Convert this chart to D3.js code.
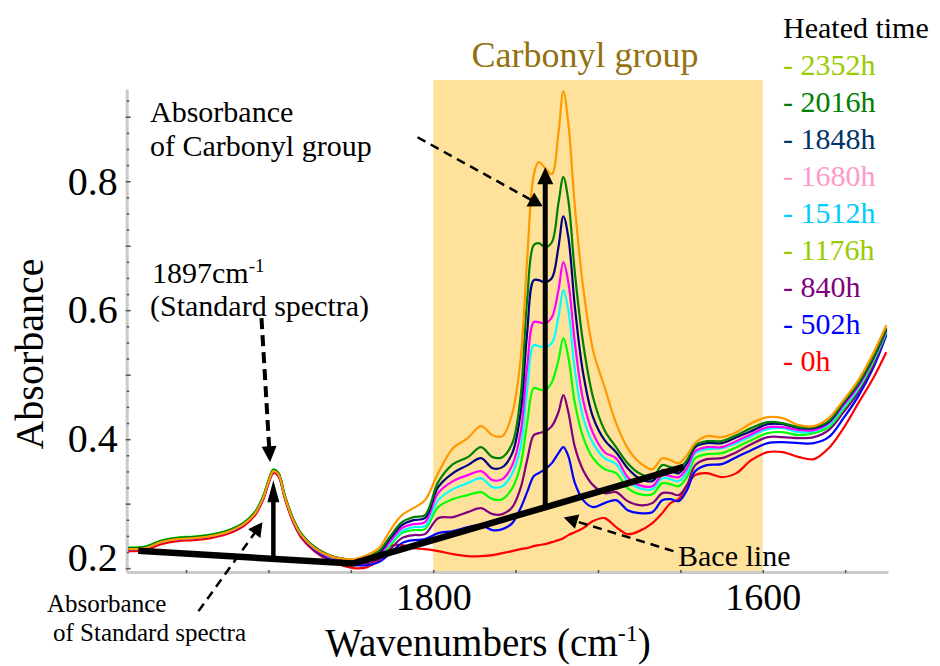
<!DOCTYPE html>
<html><head><meta charset="utf-8">
<script src="https://cdn.jsdelivr.net/npm/d3@7"></script>
<style>
body{margin:0;background:#fff}
svg{display:block}
text{font-family:"Liberation Serif","Times New Roman",Times,serif}
</style>
</head><body>
<svg id="c" width="940" height="666"></svg>
<script>
// ---------------- DATA ----------------
const wavenumbers = [1985,1975,1965,1955,1945,1935,1925,1915,1908,1903,
  1900,1897,1894,1890,1885,1880,1872,1864,1856,1848,
  1840,1833,1826,1819,1812,1805,1797,1788,1779,1771,
  1764,1758,1752,1747,1743,1739,1736,1732,1728,1724,
  1721,1718,1714,1709,1703,1696,1689,1682,1675,1667,
  1661,1656,1651,1646,1641,1634,1625,1616,1607,1597,
  1588,1578,1569,1560,1551,1542,1533,1525];

const seriesLabels = ["2352h","2016h","1848h","1680h","1512h","1176h","840h","502h","0h"];

const abs2352 = [0.2295,0.2310,0.2403,0.2450,0.2465,0.2496,0.2558,0.2682,0.2853,0.3101,0.3333,0.3504,0.3457,0.3101,0.2744,0.2512,0.2310,0.2202,0.2147,
  0.2140,0.2202,0.2310,0.2589,0.2822,0.2930,0.3054,0.3473,0.3860,0.4016,0.4202,0.4062,0.4047,0.4403,0.5225,0.6775,0.8093,0.8295,0.8202,0.8109,0.8744,0.9395,0.8899,0.7597,0.6357,0.5380,0.4806,0.4248,0.3860,0.3643,0.3535,0.3705,0.3674,0.3628,0.3752,0.3938,0.4047,0.4031,0.4109,0.4248,0.4341,0.4326,0.4217,0.4202,0.4326,0.4605,0.4915,0.5333,0.5767];
const abs2016 = [0.2315,0.2330,0.2423,0.2470,0.2485,0.2516,0.2578,0.2702,0.2873,0.3121,0.3353,0.3524,0.3477,0.3121,0.2764,0.2532,0.2330,0.2212,0.2152,
  0.2132,0.2186,0.2264,0.2496,0.2713,0.2791,0.2822,0.3333,0.3612,0.3721,0.3876,0.3721,0.3721,0.3938,0.4651,0.6155,0.7008,0.7039,0.6977,0.7054,0.7659,0.8062,0.7705,0.6574,0.5488,0.4651,0.4140,0.3876,0.3628,0.3473,0.3411,0.3597,0.3566,0.3550,0.3674,0.3907,0.3969,0.3969,0.4062,0.4171,0.4264,0.4248,0.4186,0.4186,0.4279,0.4574,0.4868,0.5271,0.5721];
const abs1848 = [0.2305,0.2320,0.2413,0.2460,0.2475,0.2506,0.2568,0.2692,0.2863,0.3111,0.3343,0.3514,0.3467,0.3111,0.2754,0.2522,0.2320,0.2207,0.2147,
  0.2124,0.2155,0.2233,0.2465,0.2667,0.2744,0.2775,0.3256,0.3473,0.3597,0.3705,0.3550,0.3566,0.3783,0.4403,0.5643,0.6465,0.6465,0.6434,0.6496,0.6977,0.7457,0.7132,0.6047,0.5023,0.4341,0.3984,0.3798,0.3550,0.3395,0.3349,0.3519,0.3504,0.3473,0.3628,0.3876,0.3938,0.3938,0.4031,0.4124,0.4233,0.4233,0.4171,0.4171,0.4264,0.4558,0.4853,0.5256,0.5705];
const abs1680 = [0.2295,0.2310,0.2403,0.2450,0.2465,0.2496,0.2558,0.2682,0.2853,0.3101,0.3333,0.3504,0.3457,0.3101,0.2744,0.2512,0.2305,0.2192,0.2135,
  0.2109,0.2140,0.2202,0.2419,0.2620,0.2682,0.2713,0.3163,0.3349,0.3442,0.3504,0.3364,0.3380,0.3597,0.4093,0.5116,0.5814,0.5814,0.5798,0.5891,0.6310,0.6744,0.6434,0.5488,0.4605,0.4093,0.3798,0.3705,0.3411,0.3287,0.3271,0.3442,0.3426,0.3411,0.3550,0.3814,0.3876,0.3876,0.3969,0.4078,0.4186,0.4186,0.4140,0.4140,0.4248,0.4527,0.4822,0.5240,0.5690];
const abs1512 = [0.2305,0.2320,0.2413,0.2460,0.2475,0.2506,0.2568,0.2692,0.2863,0.3111,0.3343,0.3514,0.3467,0.3111,0.2750,0.2515,0.2305,0.2190,0.2130,
  0.2109,0.2124,0.2186,0.2388,0.2574,0.2636,0.2651,0.3054,0.3225,0.3318,0.3395,0.3256,0.3271,0.3473,0.3876,0.4760,0.5457,0.5442,0.5426,0.5488,0.5891,0.6310,0.6000,0.5070,0.4341,0.3938,0.3705,0.3612,0.3349,0.3240,0.3225,0.3395,0.3380,0.3349,0.3488,0.3783,0.3845,0.3860,0.3938,0.4047,0.4155,0.4171,0.4109,0.4124,0.4217,0.4496,0.4791,0.5225,0.5674];
const abs1176 = [0.2320,0.2335,0.2428,0.2475,0.2490,0.2521,0.2583,0.2707,0.2878,0.3126,0.3358,0.3529,0.3482,0.3126,0.2765,0.2530,0.2315,0.2195,0.2125,
  0.2093,0.2109,0.2171,0.2357,0.2543,0.2589,0.2605,0.2946,0.3070,0.3132,0.3178,0.3070,0.3070,0.3240,0.3597,0.4248,0.4791,0.4775,0.4760,0.4884,0.5225,0.5566,0.5271,0.4558,0.4031,0.3705,0.3535,0.3473,0.3240,0.3147,0.3147,0.3318,0.3302,0.3271,0.3411,0.3705,0.3767,0.3783,0.3876,0.3984,0.4093,0.4109,0.4062,0.4093,0.4186,0.4465,0.4775,0.5194,0.5659];
const abs840 = [0.2295,0.2310,0.2403,0.2450,0.2465,0.2496,0.2558,0.2682,0.2853,0.3101,0.3333,0.3504,0.3457,0.3101,0.2740,0.2505,0.2295,0.2175,0.2110,
  0.2078,0.2078,0.2140,0.2295,0.2465,0.2512,0.2527,0.2775,0.2791,0.2868,0.2930,0.2837,0.2837,0.2946,0.3240,0.3674,0.4062,0.4093,0.4124,0.4202,0.4419,0.4682,0.4419,0.3876,0.3519,0.3287,0.3163,0.3178,0.3039,0.2977,0.3008,0.3163,0.3163,0.3132,0.3287,0.3597,0.3690,0.3705,0.3798,0.3922,0.4031,0.4031,0.4016,0.4031,0.4140,0.4419,0.4729,0.5147,0.5643];
const abs502 = [0.2290,0.2305,0.2398,0.2445,0.2460,0.2491,0.2553,0.2677,0.2848,0.3096,0.3328,0.3499,0.3452,0.3096,0.2735,0.2495,0.2280,0.2155,0.2085,
  0.2047,0.2047,0.2093,0.2233,0.2388,0.2434,0.2450,0.2543,0.2574,0.2636,0.2667,0.2589,0.2605,0.2698,0.2930,0.3178,0.3426,0.3473,0.3535,0.3628,0.3783,0.3876,0.3736,0.3318,0.3054,0.2946,0.3008,0.3054,0.2899,0.2853,0.2868,0.3054,0.3070,0.3039,0.3209,0.3504,0.3597,0.3612,0.3721,0.3829,0.3938,0.3953,0.3938,0.3938,0.4031,0.4326,0.4667,0.5101,0.5612];
const abs0 = [0.2265,0.2280,0.2373,0.2420,0.2435,0.2466,0.2528,0.2652,0.2823,0.3071,0.3303,0.3474,0.3427,0.3071,0.2710,0.2470,0.2260,0.2130,0.2050,
  0.2000,0.2016,0.2124,0.2341,0.2357,0.2310,0.2295,0.2264,0.2217,0.2186,0.2186,0.2202,0.2233,0.2264,0.2295,0.2310,0.2341,0.2357,0.2372,0.2403,0.2434,0.2465,0.2512,0.2558,0.2620,0.2729,0.2775,0.2636,0.2527,0.2574,0.2698,0.2853,0.3008,0.3070,0.3287,0.3442,0.3473,0.3411,0.3473,0.3674,0.3798,0.3798,0.3721,0.3690,0.3860,0.4171,0.4558,0.4946,0.5349];

const seriesValues = [abs2352,abs2016,abs1848,abs1680,abs1512,abs1176,abs840,abs502,abs0];
const lineColors = ["#ff9900","#008000","#000080","#ff00ff","#00ffff","#00ff00","#800080","#0000ff","#ff0000"];
const legendColors = ["#99cc00","#008000","#003366","#ff99cc","#00ccff","#99cc00","#800080","#0000ff","#ff0000"];

const yTickLabels = [0.2,0.4,0.6,0.8];
const xTickLabels = [1800,1600];
const carbonylRange = [1800,1600];

// annotation geometry (wavenumber, absorbance)
const baselinePts = [[1979,0.227],[1849,0.207],[1648,0.357]];
const standardArrow = [[1897,0.2144],[1897,0.3364]];
const carbonylArrow = [[1732,0.2943],[1732,0.8217]];
const carbonylPointer = [[1809.5,0.8682],[1733.6,0.7612]];
const standardPointer = [[1904.2,0.5876],[1899,0.3643]];
const standardAbsPointer = [[1942.4,0.1333],[1903.6,0.2713]];
const basePointer = [[1654.2,0.2264],[1720.8,0.2786]];

// ---------------- DRAW ----------------
const svg = d3.select("#c");
const x = d3.scaleLinear().domain([1986,1524]).range([126.7,888]);
const y = d3.scaleLinear().domain([0.194,0.943]).range([572,89]);

// shaded carbonyl band
svg.append("rect")
  .attr("x", x(carbonylRange[0])).attr("width", x(carbonylRange[1]) - x(carbonylRange[0]))
  .attr("y", 80).attr("height", y(0.194) - 80)
  .attr("fill", "#fee29b");

svg.append("text").attr("x", 585).attr("y", 67).attr("text-anchor","middle")
  .attr("font-size", 36).attr("fill", "#94700f").text("Carbonyl group");

// axes
const yMinor = d3.range(0, 30).map(i => +(0.2 + i*0.025).toFixed(3));
const xMinor = d3.range(1950, 1549, -50);

const gy = svg.append("g").attr("transform", "translate(126.7,0)")
  .call(d3.axisLeft(y).tickValues(yMinor).tickSizeInner(-3).tickSizeOuter(0).tickFormat(""));
gy.select(".domain").attr("stroke", "#cacaca").attr("stroke-width", 3);
gy.selectAll(".tick line").attr("stroke", "#555").attr("stroke-width", 1.5)
  .attr("x1", d => (Math.round(d*1000) % 100 === 0) ? -1 : 0)
  .attr("x2", d => (Math.round(d*1000) % 100 === 0) ? 4 : 2.5);

const gyl = svg.append("g").attr("transform", "translate(126.7,0)")
  .call(d3.axisLeft(y).tickValues(yTickLabels).tickSize(0).tickPadding(9).tickFormat(d3.format(".1f")));
gyl.select(".domain").remove();
gyl.selectAll("text").attr("font-size", 40).attr("fill", "#000")
  .attr("font-family", '"Liberation Serif","Times New Roman",serif')
  .attr("dy", d => d === 0.2 ? "0.05em" : "0.32em");

const gx = svg.append("g").attr("transform", "translate(0,572)")
  .call(d3.axisBottom(x).tickValues(xMinor).tickSizeInner(-3).tickSizeOuter(0).tickFormat(""));
gx.select(".domain").attr("stroke", "#cacaca").attr("stroke-width", 3);
gx.selectAll(".tick line").attr("stroke", "#555").attr("stroke-width", 1.5).attr("y1", 1).attr("y2", -2);

const gxl = svg.append("g").attr("transform", "translate(0,572)")
  .call(d3.axisBottom(x).tickValues(xTickLabels).tickSize(0).tickPadding(11).tickFormat(d3.format("d")));
gxl.select(".domain").remove();
gxl.selectAll("text").attr("font-size", 38).attr("fill", "#000")
  .attr("font-family", '"Liberation Serif","Times New Roman",serif');

// axis titles
svg.append("text").attr("transform", "translate(43,354) rotate(-90)")
  .attr("text-anchor", "middle").attr("font-size", 40).text("Absorbance");
const xt = svg.append("text").attr("x", 488).attr("y", 656).attr("text-anchor", "middle").attr("font-size", 39);
xt.append("tspan").text("Wavenumbers (cm");
xt.append("tspan").attr("font-size", 24).attr("dy", -15).text("-1");
xt.append("tspan").attr("dy", 15).text(")");

// spectra
const line = d3.line().x(d => x(d[0])).y(d => y(d[1])).curve(d3.curveCatmullRom.alpha(0.5));
const order = [8,7,6,5,4,3,2,1,0];
order.forEach(i => {
  const pts = wavenumbers.map((w, k) => [w, seriesValues[i][k]]);
  svg.append("path").attr("d", line(pts)).attr("fill", "none")
    .attr("stroke", lineColors[i]).attr("stroke-width", 2.2).attr("stroke-linejoin","round");
});

// baseline
const straight = d3.line().x(d => x(d[0])).y(d => y(d[1]));
svg.append("path").attr("d", straight(baselinePts)).attr("fill","none")
  .attr("stroke","#000").attr("stroke-width",6.5).attr("stroke-linejoin","round");

function arrow(pts, o) {
  const x1 = x(pts[0][0]), y1 = y(pts[0][1]), x2 = x(pts[1][0]), y2 = y(pts[1][1]);
  const dx = x2-x1, dy = y2-y1, L = Math.hypot(dx,dy), ux = dx/L, uy = dy/L;
  const bx = x2 - ux*o.headLen, by = y2 - uy*o.headLen;
  const l = svg.append("line").attr("x1",x1).attr("y1",y1).attr("x2",bx+ux*1).attr("y2",by+uy*1)
    .attr("stroke","#000").attr("stroke-width",o.width);
  if (o.dash) l.attr("stroke-dasharray", o.dash);
  svg.append("polygon").attr("fill","#000").attr("points",
    [[x2,y2],[bx - uy*o.half, by + ux*o.half],[bx + uy*o.half, by - ux*o.half]].map(p=>p.join(",")).join(" "));
}
arrow(standardArrow, {width:4.5, headLen:22, half:6});
arrow(carbonylArrow, {width:5, headLen:17, half:8});
arrow(carbonylPointer, {width:2.5, headLen:14, half:8, dash:"9,6"});
arrow(standardPointer, {width:4, headLen:16, half:7.5, dash:"11,6"});
arrow(standardAbsPointer, {width:2.5, headLen:14, half:7.5, dash:"9,6"});
arrow(basePointer, {width:2.5, headLen:14, half:7.5, dash:"9,6"});

// annotation texts
function txt(xp, yp, s, size) {
  return svg.append("text").attr("x", xp).attr("y", yp).attr("font-size", size).text(s);
}
txt(150, 122, "Absorbance", 30);
txt(150, 156, "of Carbonyl group", 30);
const t1 = svg.append("text").attr("x", 152).attr("y", 283).attr("font-size", 30);
t1.append("tspan").text("1897cm");
t1.append("tspan").attr("font-size", 19).attr("dy", -11).text("-1");
txt(150, 316, "(Standard spectra)", 30);
txt(47, 612, "Absorbance", 25);
txt(53, 641, "of Standard spectra", 25);
txt(678, 566, "Bace line", 30);

// legend
txt(783, 38, "Heated time", 30);
seriesLabels.forEach((s, i) => {
  svg.append("text").attr("x", 783).attr("y", 75 + i*37).attr("font-size", 30)
    .attr("fill", legendColors[i]).text("- " + s);
});
</script>
</body></html>
